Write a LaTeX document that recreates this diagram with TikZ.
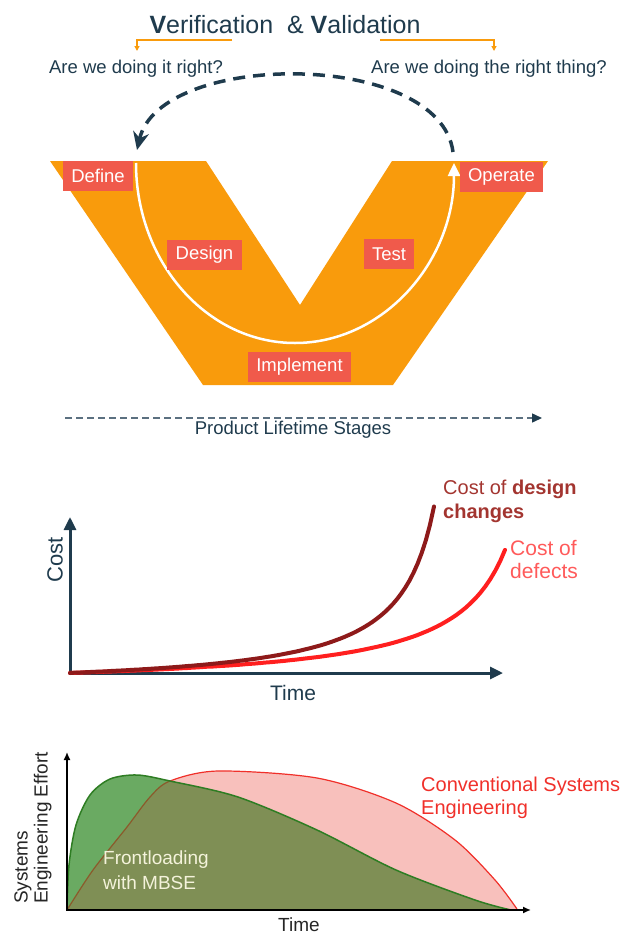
\documentclass[tikz,border=0pt]{standalone}
\usepackage{fontspec}
\setmainfont{Liberation Sans}
\usetikzlibrary{arrows.meta}
\definecolor{vorange}{HTML}{F99B0C}
\definecolor{stagered}{HTML}{F05A4B}
\definecolor{navy}{HTML}{1F3B4D}
\definecolor{lifegray}{HTML}{5B7080}
\definecolor{designred}{HTML}{8E1A1A}
\definecolor{defectred}{HTML}{FF1F1F}
\definecolor{designtext}{HTML}{A33530}
\definecolor{defecttext}{HTML}{FF5A5A}
\definecolor{convpink}{HTML}{F8C0BC}
\definecolor{convred}{HTML}{F0302A}
\definecolor{convbrown}{HTML}{8B5A2B}
\definecolor{mbsegreen}{HTML}{6AAA62}
\definecolor{mbseolive}{HTML}{7F8F55}
\definecolor{mbseline}{HTML}{2E7D23}
\tikzset{
  stagebox/.style={fill=stagered, text=white, font=\fontsize{18.5}{20}\selectfont,
    inner xsep=8.5pt, inner ysep=0pt, minimum height=30pt},
  question/.style={text=navy, font=\fontsize{18.5}{20}\selectfont},
  bracket/.style={draw=vorange, line width=1.6pt, -{Triangle[length=5pt,width=5pt]}},
  axisnavy/.style={draw=navy, line width=3pt,
    {Triangle[length=13pt,width=12pt]}-{Triangle[length=13pt,width=12pt]}},
  axisblack/.style={draw=black, line width=1.5pt,
    {Latex[length=8pt,width=7pt]}-{Latex[length=8pt,width=7pt]}},
  chartlabel/.style={anchor=west, align=left, inner sep=0pt},
}
\def\convCurve{plot[smooth] coordinates {(67,910) (93,870) (127,827) (150,797)
  (170,781) (218,771) (317,778) (396,803) (455,840) (495,880) (517,909)}}
\def\mbseCurve{plot[smooth] coordinates {(67,910) (69,865) (76,825) (90,795)
  (110,779) (137,775) (170,781) (238,797) (317,830) (396,870) (475,900) (511,910)}}

\begin{document}
\begin{tikzpicture}[x=1pt, y=-1pt]
  \useasboundingbox (0,0) rectangle (621,935);

  % V-model
  \node[text=navy, font=\fontsize{25}{27}\selectfont] (title) at (285,25)
    {\textbf{V}erification\ \ \&\ \textbf{V}alidation};
  \coordinate (verstart) at (232,40);
  \coordinate (vercorner) at (137,40);
  \coordinate (verend) at (137,51);
  \coordinate (valstart) at (380,40);
  \coordinate (valcorner) at (494,40);
  \coordinate (valend) at (494,51);
  \draw[bracket] (verstart) -- (vercorner) -- (verend);
  \draw[bracket] (valstart) -- (valcorner) -- (valend);
  \node[question] (verq) at (136,69) {Are we doing it right?};
  \node[question] (valq) at (489,69) {Are we doing the right thing?};

  \fill[vorange] (50,161) -- (206,161) -- (300,305) -- (392,161) -- (548,161)
    -- (393,385) -- (203,385) -- cycle;
  \coordinate (loopstart) at (136,163);
  \draw[white, line width=2.5pt, -{Triangle[length=13pt,width=12pt]}] (loopstart)
    arc[start angle=180, end angle=0, x radius=159, y radius=180];

  \node[stagebox] (define) at (98,176) {Define};
  \node[stagebox] (operate) at (501.5,176.5) {Operate};
  \node[stagebox] (design) at (204.5,255) {Design};
  \node[stagebox] (test) at (389,254) {Test};
  \node[stagebox] (implement) at (299.5,367) {Implement};

  \coordinate (backstart) at (453,152);
  \coordinate (backend) at (137,150);
  \draw[navy, line width=3.5pt, dash pattern=on 12pt off 8pt,
    -{Stealth[length=18pt,width=16pt]}] (backstart) .. controls (440,50) and (160,50) .. (backend);

  \coordinate (lifestart) at (65,418);
  \coordinate (lifeend) at (542,418);
  \draw[lifegray, line width=1.5pt, dash pattern=on 7pt off 4pt,
    -{Triangle[length=10pt,width=9pt,color=navy,fill=navy]}] (lifestart) -- (lifeend);
  \node[text=navy, font=\fontsize{18.5}{20}\selectfont] (lifelabel) at (293,430)
    {Product Lifetime Stages};

  % cost of changes
  \coordinate (costorigin) at (70,673);
  \coordinate (costtop) at (70,517);
  \coordinate (costend) at (503,673);
  \draw[axisnavy] (costtop) -- (costorigin) -- (costend);
  \draw[defectred, line width=4pt, line cap=round] plot[domain=70:505, samples=90]
    (\x, {673 - 7621*(1/(560-\x) - 1/490)});
  \draw[designred, line width=4pt, line cap=round] plot[domain=70:434, samples=90]
    (\x, {673 - 6587*(1/(470-\x) - 1/400)});
  \node[rotate=90, text=navy, font=\fontsize{22}{24}\selectfont] (costlabel) at (55,560) {Cost};
  \node[text=navy, font=\fontsize{21}{24}\selectfont] (timelabel) at (293,693) {Time};
  \node[chartlabel, text=designtext, font=\fontsize{20}{24}\selectfont] (designlabel)
    at (443,501) {Cost of \textbf{design}\\\textbf{changes}};
  \node[chartlabel, text=defecttext, font=\fontsize{21}{23}\selectfont] (defectlabel)
    at (510,559) {Cost of\\defects};

  % effort
  \fill[convpink] \convCurve -- cycle;
  \draw[convred, line width=1.2pt] \convCurve;
  \fill[mbsegreen] \mbseCurve -- cycle;
  \begin{scope}
    \clip \convCurve -- cycle;
    \fill[mbseolive] \mbseCurve -- cycle;
  \end{scope}
  \begin{scope}
    \clip \mbseCurve -- cycle;
    \draw[convbrown, line width=1.2pt] \convCurve;
  \end{scope}
  \draw[mbseline, line width=1.5pt] \mbseCurve;
  \coordinate (effortorigin) at (67,910);
  \coordinate (efforttop) at (67,752);
  \coordinate (effortend) at (531,910);
  \draw[axisblack] (efforttop) -- (effortorigin) -- (effortend);
  \node[rotate=90, anchor=west, align=left, inner sep=0pt, text=black!85,
    font=\fontsize{19}{20}\selectfont] (effortlabel) at (33,904) {Systems\\Engineering Effort};
  \node[text=black!85, font=\fontsize{19}{21}\selectfont] (efforttime) at (299,925) {Time};
  \node[chartlabel, text=convred, font=\fontsize{20}{23}\selectfont] (convlabel)
    at (421,798) {Conventional Systems\\Engineering};
  \node[chartlabel, text=white!90!olive, font=\fontsize{19}{25}\selectfont] (mbselabel)
    at (103,870) {Frontloading\\with MBSE};
\end{tikzpicture}
\end{document}
